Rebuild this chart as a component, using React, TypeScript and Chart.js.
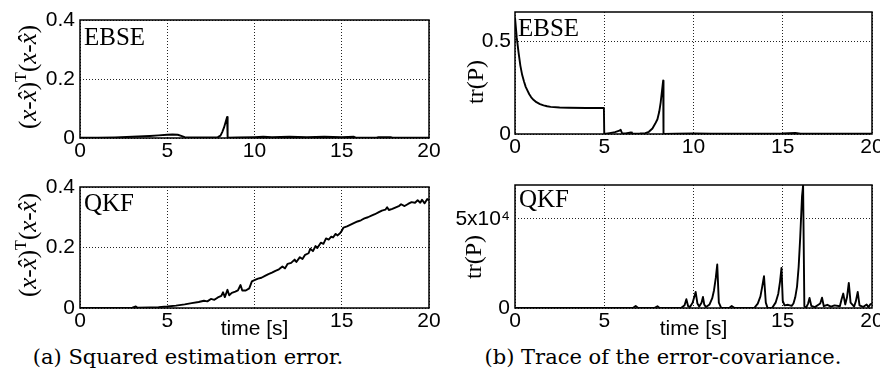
import React, { useEffect, useRef } from 'react';
import { Chart, registerables } from 'chart.js';

Chart.register(...registerables);

// ---------- data ----------
const xTicks = [0, 5, 10, 15, 20];
const xTickLabelsTop = ['0', '5', '10', '15', '20'];
const xTickLabelsBottom = ['0', '5', '', '15', '20'];

const errTicks = [0, 0.2, 0.4];
const errTickLabels = ['0', '0.2', '0.4'];
const ebseTrTicks = [0, 0.5];
const ebseTrTickLabels = ['0', '0.5'];
const qkfTrTicks = [0, 50000];
const qkfTrTickLabels = ['0', '5x10\u2074'];

// EBSE squared estimation error [time, value]
const ebseErr: [number, number][] = [
  [0, 0.001], [1, 0.001], [2, 0.002], [3, 0.004], [4, 0.007], [4.5, 0.009], [5, 0.011], [5.3, 0.012],
  [5.6, 0.011], [5.8, 0.007], [6, 0.003], [6.5, 0.002], [7, 0.002], [7.5, 0.002], [7.9, 0.003],
  [8.05, 0.008], [8.15, 0.02], [8.25, 0.035], [8.35, 0.055], [8.43, 0.071], [8.46, 0.001], [9, 0.002],
  [10, 0.003], [10.5, 0.004], [11, 0.003], [12, 0.004], [13, 0.003], [14, 0.004], [15, 0.003],
  [15.7, 0.004], [15.8, 0.001], [17, 0.001], [17.1, 0.003], [17.8, 0.003], [17.9, 0.001], [20, 0.001],
];

// QKF squared estimation error [time, value]
const qkfErr: [number, number][] = [
  [0, 0], [1, 0], [2, 0], [3, 0.001], [3.2, 0.005], [3.3, 0.001], [4, 0.002], [4.5, 0.003], [5, 0.005],
  [5.5, 0.008], [6, 0.012], [6.4, 0.016], [6.8, 0.02], [7.1, 0.024], [7.3, 0.022], [7.5, 0.03],
  [7.7, 0.027], [7.9, 0.035], [8.1, 0.04], [8.2, 0.052], [8.3, 0.036], [8.45, 0.06], [8.55, 0.042],
  [8.7, 0.05], [8.9, 0.054], [9.05, 0.058], [9.2, 0.076], [9.3, 0.058], [9.5, 0.058], [9.7, 0.065],
  [9.85, 0.088], [10.0, 0.092], [10.2, 0.097], [10.4, 0.1], [10.6, 0.106], [10.8, 0.112], [11.0, 0.117],
  [11.2, 0.123], [11.4, 0.128], [11.6, 0.137], [11.75, 0.131], [11.9, 0.146], [12.1, 0.149], [12.3, 0.16],
  [12.4, 0.152], [12.6, 0.168], [12.75, 0.162], [12.9, 0.176], [13.1, 0.181], [13.2, 0.196],
  [13.35, 0.188], [13.5, 0.205], [13.6, 0.198], [13.8, 0.216], [13.95, 0.212], [14.1, 0.23],
  [14.25, 0.226], [14.4, 0.236], [14.5, 0.233], [14.65, 0.245], [14.75, 0.24], [14.9, 0.247],
  [15.0, 0.255], [15.1, 0.266], [15.3, 0.27], [15.6, 0.278], [15.9, 0.286], [16.1, 0.29], [16.3, 0.296],
  [16.5, 0.3], [16.7, 0.305], [16.9, 0.31], [17.1, 0.316], [17.3, 0.322], [17.5, 0.325], [17.6, 0.333],
  [17.7, 0.324], [17.9, 0.328], [18.1, 0.333], [18.3, 0.338], [18.4, 0.343], [18.6, 0.337], [18.8, 0.344],
  [19.0, 0.35], [19.2, 0.348], [19.35, 0.356], [19.5, 0.348], [19.6, 0.358], [19.75, 0.346],
  [19.9, 0.36], [20, 0.355],
];

// EBSE trace of error covariance [time, value]
const ebseTrace: [number, number][] = [
  [0, 0.63], [0.1, 0.52], [0.2, 0.44], [0.3, 0.37], [0.4, 0.32], [0.5, 0.285], [0.6, 0.255], [0.7, 0.235],
  [0.8, 0.215], [0.9, 0.2], [1.0, 0.188], [1.2, 0.172], [1.4, 0.162], [1.6, 0.155], [1.8, 0.15],
  [2.0, 0.147], [2.5, 0.143], [3.0, 0.142], [4.0, 0.141], [4.98, 0.141], [5.0, 0.0], [5.3, 0.005],
  [5.6, 0.01], [5.85, 0.018], [5.92, 0.023], [6.0, 0.004], [6.2, 0.003], [6.5, 0.008], [6.55, 0.002],
  [7.0, 0.003], [7.3, 0.005], [7.5, 0.012], [7.7, 0.03], [7.85, 0.055], [7.98, 0.08], [8.08, 0.12],
  [8.16, 0.17], [8.23, 0.23], [8.3, 0.289], [8.32, 0.0], [9, 0.002], [10, 0.003], [11, 0.002], [12, 0.002],
  [13, 0.002], [14, 0.002], [15, 0.003], [15.7, 0.006], [16, 0.002], [18, 0.002], [20, 0.002],
];

// QKF trace of error covariance [time, value]
const qkfTrace: [number, number][] = [
  [0, 0], [6.6, 0], [6.76, 1100], [6.9, 0], [7.8, 0], [7.98, 1000], [8.1, 0], [9.3, 0], [9.5, 1500],
  [9.6, 4900], [9.7, 1000], [9.8, 500], [9.95, 3000], [10.05, 6500], [10.12, 9000], [10.22, 2500],
  [10.32, 800], [10.45, 3000], [10.53, 6200], [10.6, 2000], [10.7, 500], [10.9, 2000], [11.05, 5500],
  [11.15, 10000], [11.25, 17000], [11.33, 24400], [11.42, 3000], [11.55, 0], [12.0, 0], [12.14, 1100],
  [12.3, 0], [13.4, 0], [13.6, 2500], [13.75, 6500], [13.85, 12000], [13.95, 17800], [14.05, 3000],
  [14.15, 0], [14.4, 0], [14.6, 3000], [14.75, 8000], [14.85, 15000], [14.93, 22500], [15.0, 4000],
  [15.1, 1500], [15.3, 1800], [15.5, 1200], [15.6, 2500], [15.7, 6000], [15.8, 12000], [15.89, 23000],
  [15.98, 40000], [16.08, 62700], [16.14, 68800], [16.21, 1000], [16.3, 0], [16.42, 2500], [16.5, 5600],
  [16.6, 1200], [16.8, 500], [17.1, 2500], [17.2, 5800], [17.3, 1000], [17.5, 1800], [17.7, 800],
  [17.9, 1500], [18.2, 1000], [18.3, 5000], [18.39, 8100], [18.5, 2000], [18.6, 6000], [18.7, 14100],
  [18.8, 3000], [19.0, 800], [19.1, 4000], [19.2, 9000], [19.3, 1500], [19.5, 600], [19.7, 2000],
  [19.8, 500], [19.9, 2000], [20, 2500],
];

// ---------- styling ----------
const SANS = "'Liberation Sans', Arial, sans-serif";
const SERIF = "'Liberation Serif', 'Times New Roman', serif";
const TICK_SIZE = 21;

const boxPlugin = {
  id: 'box',
  afterDraw(chart: any) {
    const { ctx, chartArea } = chart;
    const { left, top, right, bottom } = chartArea;
    ctx.save();
    ctx.strokeStyle = '#000';
    ctx.lineWidth = 1.5;
    ctx.strokeRect(left, top, right - left, bottom - top);
    ctx.restore();
  },
};

interface Spec {
  left: number; top: number; w: number; h: number;
  points: [number, number][];
  yMax: number; yTicks: number[]; yLabels: string[];
  xLabels: string[];
  xTitle: string | null;
  pad: { left: number; right: number; top: number; bottom: number };
  yWidth: number; xHeight: number; yTickPad: number;
}

function buildConfig(s: Spec): any {
  return {
    type: 'line',
    data: {
      datasets: [{
        data: s.points.map(([x, y]) => ({ x, y })),
        borderColor: '#000',
        borderWidth: 1.9,
        pointRadius: 0,
        fill: false,
        tension: 0,
        borderJoinStyle: 'round',
      }],
    },
    options: {
      animation: false,
      responsive: false,
      devicePixelRatio: 1,
      events: [],
      layout: { padding: s.pad },
      plugins: { legend: { display: false }, tooltip: { enabled: false }, title: { display: false } },
      scales: {
        x: {
          type: 'linear', min: 0, max: 20,
          afterBuildTicks: (sc: any) => { sc.ticks = xTicks.map((v) => ({ value: v })); },
          afterFit: (sc: any) => { sc.height = s.xHeight; sc.paddingLeft = 0; sc.paddingRight = 0; },
          grid: { color: '#222', lineWidth: 1, drawTicks: false },
          border: { display: false, dash: [1, 2] },
          ticks: {
            autoSkip: false, maxRotation: 0, padding: 1, color: '#000',
            font: { family: SANS, size: TICK_SIZE },
            callback: (_v: any, i: number) => s.xLabels[i],
          },
          title: s.xTitle
            ? { display: true, text: s.xTitle, color: '#000', font: { family: SANS, size: TICK_SIZE }, padding: { top: 0, bottom: 2 } }
            : { display: false },
        },
        y: {
          type: 'linear', min: 0, max: s.yMax,
          afterBuildTicks: (sc: any) => { sc.ticks = s.yTicks.map((v) => ({ value: v })); },
          afterFit: (sc: any) => { sc.width = s.yWidth; sc.paddingTop = 0; sc.paddingBottom = 0; },
          grid: { color: '#222', lineWidth: 1, drawTicks: false },
          border: { display: false, dash: [1, 2] },
          ticks: {
            autoSkip: false, padding: s.yTickPad, color: '#000',
            font: { family: SANS, size: TICK_SIZE },
            callback: (_v: any, i: number) => s.yLabels[i],
          },
          title: { display: false },
        },
      },
    },
    plugins: [boxPlugin],
  };
}

const specs: Spec[] = [
  {
    left: 0, top: 0, w: 440, h: 170, points: ebseErr,
    yMax: 0.4, yTicks: errTicks, yLabels: errTickLabels, xLabels: xTickLabelsTop, xTitle: null,
    pad: { left: 0, right: 11, top: 20, bottom: 0 }, yWidth: 80, xHeight: 32, yTickPad: 5,
  },
  {
    left: 440, top: 0, w: 440, h: 170, points: ebseTrace,
    yMax: 0.66, yTicks: ebseTrTicks, yLabels: ebseTrTickLabels, xLabels: xTickLabelsTop, xTitle: null,
    pad: { left: 0, right: 8, top: 12, bottom: 0 }, yWidth: 75, xHeight: 36, yTickPad: 4,
  },
  {
    left: 0, top: 170, w: 440, h: 174, points: qkfErr,
    yMax: 0.4, yTicks: errTicks, yLabels: errTickLabels, xLabels: xTickLabelsBottom, xTitle: 'time [s]',
    pad: { left: 0, right: 11, top: 17, bottom: 0 }, yWidth: 80, xHeight: 36, yTickPad: 5,
  },
  {
    left: 440, top: 170, w: 440, h: 174, points: qkfTrace,
    yMax: 69000, yTicks: qkfTrTicks, yLabels: qkfTrTickLabels, xLabels: xTickLabelsBottom, xTitle: 'time [s]',
    pad: { left: 0, right: 8, top: 15, bottom: 0 }, yWidth: 75, xHeight: 36, yTickPad: 5,
  },
];

function Plot({ spec }: { spec: Spec }) {
  const ref = useRef<HTMLCanvasElement>(null);
  useEffect(() => {
    const chart = new Chart(ref.current as HTMLCanvasElement, buildConfig(spec));
    return () => chart.destroy();
  }, [spec]);
  return (
    <canvas
      ref={ref}
      width={spec.w}
      height={spec.h}
      style={{ position: 'absolute', left: spec.left, top: spec.top, width: spec.w, height: spec.h }}
    />
  );
}

const rotStyle: React.CSSProperties = {
  position: 'absolute', transform: 'translate(-50%, -50%) rotate(-90deg)',
  fontFamily: SERIF, lineHeight: 1, whiteSpace: 'nowrap', color: '#000',
};

function ErrLabel({ cx, cy }: { cx: number; cy: number }) {
  const hx = 'x\u0302';
  return (
    <div style={{ ...rotStyle, left: cx, top: cy, fontSize: 25 }}>
      (<i>x</i>-<i>{hx}</i>)
      <span style={{ fontSize: 16, position: 'relative', top: -10 }}>T</span>
      (<i>x</i>-<i>{hx}</i>)
    </div>
  );
}

function TrLabel({ cx, cy }: { cx: number; cy: number }) {
  return <div style={{ ...rotStyle, left: cx, top: cy, fontSize: 24 }}>tr(P)</div>;
}

const tagStyle: React.CSSProperties = {
  position: 'absolute', fontFamily: SERIF, fontSize: 25, lineHeight: '25px', color: '#000', whiteSpace: 'nowrap',
};
const capStyle: React.CSSProperties = {
  position: 'absolute', fontFamily: "'DejaVu Serif', serif", fontSize: 21, lineHeight: 1, color: '#000',
  whiteSpace: 'nowrap', transform: 'translate(-50%, -50%)',
};

export default function App() {
  return (
    <div style={{ position: 'fixed', left: 0, top: 0, width: 880, height: 381, background: '#fff', overflow: 'hidden' }}>
      {specs.map((s, i) => <Plot key={i} spec={s} />)}
      <ErrLabel cx={27} cy={77} />
      <ErrLabel cx={27} cy={245} />
      <TrLabel cx={475} cy={82} />
      <TrLabel cx={473} cy={257} />
      <div style={{ ...tagStyle, left: 84, top: 24 }}>EBSE</div>
      <div style={{ ...tagStyle, left: 518, top: 15 }}>EBSE</div>
      <div style={{ ...tagStyle, left: 84, top: 190 }}>QKF</div>
      <div style={{ ...tagStyle, left: 519, top: 186 }}>QKF</div>
      <div style={{ ...capStyle, left: 188, top: 357 }}>(a) Squared estimation error.</div>
      <div style={{ ...capStyle, left: 663, top: 357 }}>(b) Trace of the error-covariance.</div>
    </div>
  );
}
